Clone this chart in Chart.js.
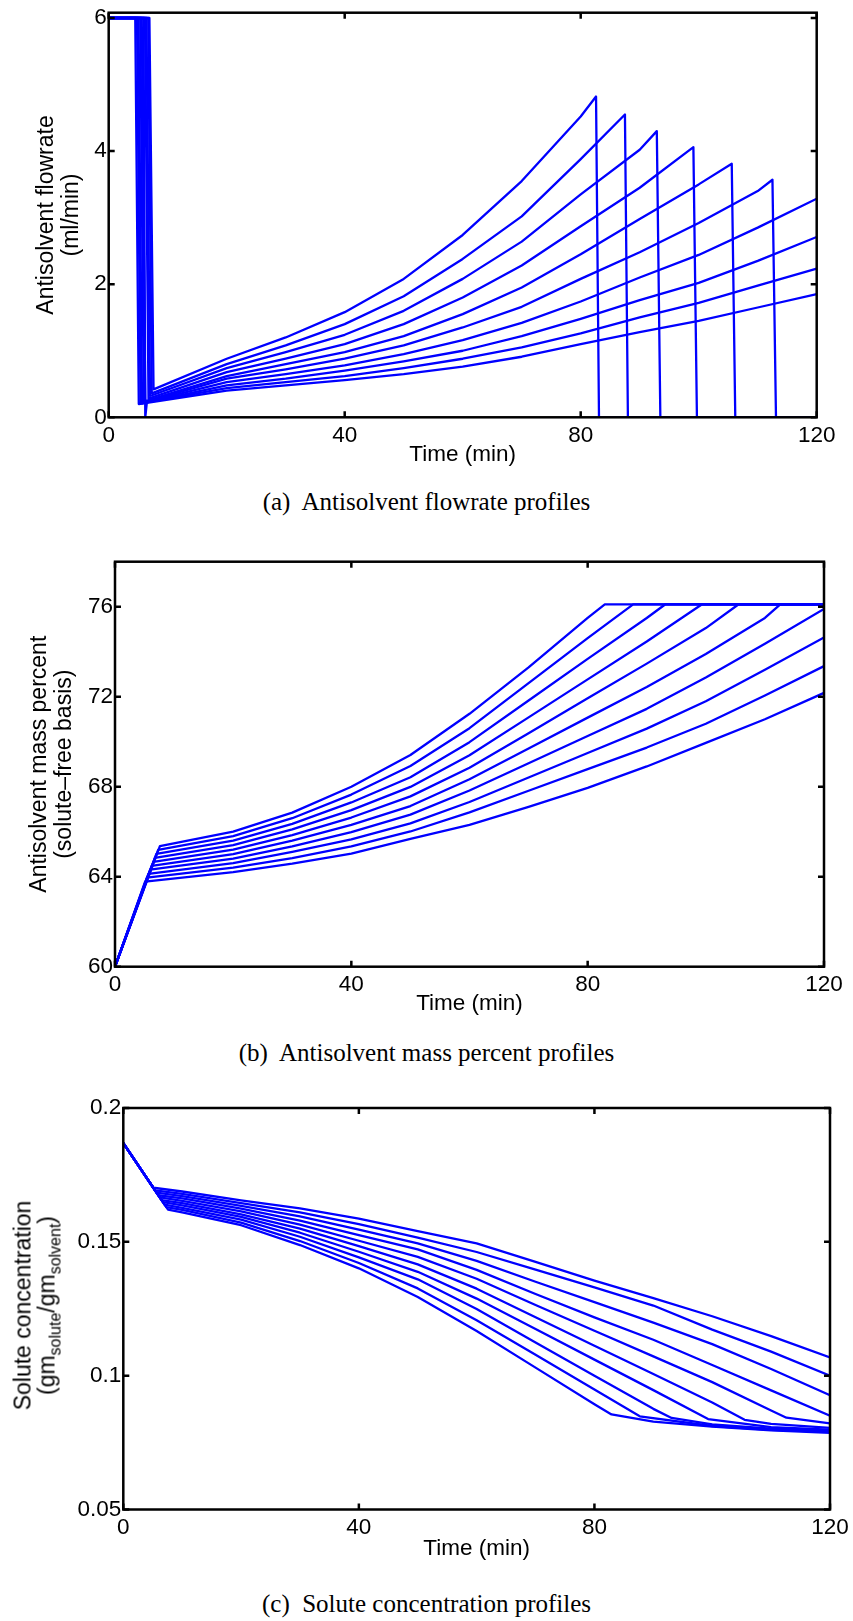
<!DOCTYPE html>
<html>
<head>
<meta charset="utf-8">
<script src="https://cdn.jsdelivr.net/npm/chart.js@4.4.1/dist/chart.umd.min.js"></script>
<style>
  body { margin: 0; background: #fff; width: 853px; height: 1621px; position: relative; overflow: hidden; }
  canvas { position: absolute; left: 0; }
  .cap { position: absolute; left: 0; width: 853px; text-align: center; font-family: "Liberation Serif", "Times New Roman", serif; font-size: 25px; color: #000; line-height: 28px; }
  .ytitle { position: absolute; font-family: "Liberation Sans", Arial, sans-serif; font-size: 23px; color: #000; text-align: center; transform: rotate(-90deg); white-space: nowrap; }
  .ytitle div { height: 23.5px; line-height: 23.5px; }
  .ytitle sub { font-size: 16px; vertical-align: -6px; line-height: 0; }
</style>
</head>
<body>
<canvas id="chartA" width="853" height="470" style="top:0px"></canvas>
<canvas id="chartB" width="853" height="480" style="top:540px"></canvas>
<canvas id="chartC" width="853" height="490" style="top:1080px"></canvas>

<div class="cap" style="top:488px">(a)&nbsp; Antisolvent flowrate profiles</div>
<div class="cap" style="top:1039px">(b)&nbsp; Antisolvent mass percent profiles</div>
<div class="cap" style="top:1590px">(c)&nbsp; Solute concentration profiles</div>

<div class="ytitle" style="left:-165px; top:1282px; width:400px; height:47px;">
  <div>Solute concentration</div>
  <div>(gm<sub>solute</sub>/gm<sub>solvent</sub>)</div>
</div>

<script>
// tick values
const timeTicks = [0, 40, 80, 120]
const flowTicks = [0, 2, 4, 6]
const massTicks = [60, 64, 68, 72, 76]
const concTicks = [0.05, 0.1, 0.15, 0.2]

// (a) antisolvent flowrate, ml/min  [time, value]
const flow1 = [[0,6],[6.9,6],[7.6,0.42],[20,0.88],[30,1.2],[40,1.58],[50,2.08],[60,2.74],[70,3.55],[80,4.52],[82.6,4.82],[83.1,0],[120,0]]
const flow2 = [[0,6],[6.7,6],[7.3,0.36],[20,0.80],[30,1.08],[40,1.40],[50,1.82],[60,2.38],[70,3.02],[80,3.88],[87.5,4.55],[88.0,0],[120,0]]
const flow3 = [[0,6],[6.4,6],[7.0,0.32],[20,0.74],[30,0.98],[40,1.24],[50,1.6],[60,2.08],[70,2.64],[80,3.35],[90,4.02],[92.9,4.30],[93.5,0],[120,0]]
const flow4 = [[0,6],[6.15,6],[6.75,0.28],[20,0.68],[30,0.88],[40,1.10],[50,1.4],[60,1.8],[70,2.28],[80,2.87],[90,3.45],[99.1,4.06],[99.7,0],[120,0]]
const flow5 = [[0,6],[5.9,6],[6.2,0],[6.5,0.25],[20,0.62],[30,0.80],[40,0.98],[50,1.22],[60,1.55],[70,1.95],[80,2.45],[90,2.98],[100,3.5],[105.6,3.81],[106.2,0],[120,0]]
const flow6 = [[0,6],[5.6,6],[6.2,0.23],[20,0.58],[30,0.72],[40,0.88],[50,1.08],[60,1.35],[70,1.66],[80,2.08],[90,2.48],[100,2.92],[110,3.40],[112.5,3.57],[113.1,0],[120,0]]
const flow7 = [[0,6],[5.35,6],[5.95,0.22],[20,0.53],[30,0.65],[40,0.78],[50,0.95],[60,1.16],[70,1.42],[80,1.74],[90,2.1],[100,2.44],[110,2.85],[120,3.285]]
const flow8 = [[0,6],[5.05,6],[5.65,0.21],[20,0.48],[30,0.58],[40,0.70],[50,0.84],[60,1.0],[70,1.22],[80,1.48],[90,1.76],[100,2.02],[110,2.35],[120,2.71]]
const flow9 = [[0,6],[4.8,6],[5.4,0.21],[20,0.44],[30,0.53],[40,0.62],[50,0.74],[60,0.88],[70,1.05],[80,1.26],[90,1.5],[100,1.72],[110,1.98],[120,2.235]]
const flow10 = [[0,6],[4.5,6],[5.1,0.20],[20,0.40],[30,0.48],[40,0.56],[50,0.65],[60,0.76],[70,0.91],[80,1.1],[90,1.28],[100,1.45],[110,1.65],[120,1.85]]

// (b) antisolvent mass percent, solute-free basis
const mass1 = [[0,60],[7.6,65.36],[20,66.0],[30,66.85],[40,68.0],[50,69.41],[60,71.24],[70,73.3],[80,75.5],[82.9,76.1],[120,76.1]]
const mass2 = [[0,60],[7.3,65.19],[20,65.8],[30,66.6],[40,67.65],[50,68.92],[60,70.6],[70,72.6],[80,74.6],[87.7,76.1],[120,76.1]]
const mass3 = [[0,60],[7.0,65.01],[20,65.6],[30,66.35],[40,67.3],[50,68.42],[60,69.98],[70,71.83],[80,73.68],[90,75.5],[93.1,76.1],[120,76.1]]
const mass4 = [[0,60],[6.75,64.84],[20,65.4],[30,66.1],[40,66.96],[50,67.99],[60,69.4],[70,71.08],[80,72.77],[90,74.45],[99.3,76.1],[120,76.1]]
const mass5 = [[0,60],[6.5,64.66],[20,65.2],[30,65.85],[40,66.63],[50,67.57],[60,68.84],[70,70.38],[80,71.93],[90,73.47],[100,75.05],[105.5,76.1],[120,76.1]]
const mass6 = [[0,60],[6.2,64.48],[20,65.0],[30,65.6],[40,66.3],[50,67.14],[60,68.33],[70,69.7],[80,71.07],[90,72.43],[100,73.9],[110,75.5],[112.6,76.1],[120,76.1]]
const mass7 = [[0,60],[5.95,64.31],[20,64.8],[30,65.35],[40,65.98],[50,66.76],[60,67.83],[70,69.04],[80,70.25],[90,71.46],[100,72.85],[110,74.35],[120,75.9]]
const mass8 = [[0,60],[5.65,64.13],[20,64.6],[30,65.1],[40,65.66],[50,66.37],[60,67.32],[70,68.41],[80,69.5],[90,70.58],[100,71.8],[110,73.2],[120,74.63]]
const mass9 = [[0,60],[5.4,63.96],[20,64.4],[30,64.83],[40,65.35],[50,66.01],[60,66.86],[70,67.82],[80,68.78],[90,69.74],[100,70.8],[110,72.05],[120,73.36]]
const mass10 = [[0,60],[5.1,63.78],[20,64.2],[30,64.58],[40,65.03],[50,65.68],[60,66.3],[70,67.1],[80,67.95],[90,68.9],[100,69.95],[110,71.0],[120,72.17]]

// (c) solute concentration, gm solute / gm solvent
const conc1 = [[0,0.1869],[7.6,0.1620],[10,0.1610],[20,0.1562],[30,0.1488],[40,0.1401],[50,0.1294],[60,0.1167],[70,0.1030],[80,0.0893],[82.9,0.0855],[90,0.0828],[100,0.0810],[110,0.0796],[120,0.0786]]
const conc2 = [[0,0.1869],[7.3,0.1630],[10,0.1619],[20,0.1572],[30,0.1503],[40,0.1421],[50,0.1326],[60,0.1207],[70,0.1078],[80,0.0948],[87.7,0.0848],[100,0.0812],[110,0.0798],[120,0.0790]]
const conc3 = [[0,0.1869],[7.0,0.1639],[10,0.1627],[20,0.1583],[30,0.1519],[40,0.1442],[50,0.1360],[60,0.1249],[70,0.1124],[80,0.1000],[90,0.0876],[93.1,0.0842],[100,0.0818],[110,0.0802],[120,0.0794]]
const conc4 = [[0,0.1869],[6.75,0.1648],[10,0.1636],[20,0.1593],[30,0.1534],[40,0.1463],[50,0.1388],[60,0.1288],[70,0.1174],[80,0.1060],[90,0.0946],[99.3,0.0838],[110,0.0808],[120,0.0798]]
const conc5 = [[0,0.1869],[6.5,0.1656],[10,0.1645],[20,0.1603],[30,0.1549],[40,0.1484],[50,0.1416],[60,0.1325],[70,0.1218],[80,0.1112],[90,0.1006],[100,0.0900],[105.5,0.0835],[110,0.0820],[120,0.0805]]
const conc6 = [[0,0.1869],[6.2,0.1666],[10,0.1653],[20,0.1614],[30,0.1564],[40,0.1504],[50,0.1444],[60,0.1362],[70,0.1264],[80,0.1168],[90,0.1072],[100,0.0976],[110,0.0870],[112.6,0.0843],[120,0.0822]]
const conc7 = [[0,0.1869],[5.95,0.1674],[10,0.1662],[20,0.1624],[30,0.1579],[40,0.1525],[50,0.1472],[60,0.1395],[70,0.1305],[80,0.1218],[90,0.1134],[100,0.1040],[110,0.0945],[120,0.0850]]
const conc8 = [[0,0.1869],[5.65,0.1684],[10,0.1671],[20,0.1634],[30,0.1595],[40,0.1546],[50,0.1494],[60,0.1429],[70,0.1351],[80,0.1275],[90,0.1198],[100,0.1118],[110,0.1025],[120,0.0927]]
const conc9 = [[0,0.1869],[5.4,0.1692],[10,0.1679],[20,0.1645],[30,0.1610],[40,0.1566],[50,0.1516],[60,0.1462],[70,0.1396],[80,0.1330],[90,0.1262],[100,0.1172],[110,0.1090],[120,0.1000]]
const conc10 = [[0,0.1869],[5.1,0.1702],[10,0.1688],[20,0.1655],[30,0.1625],[40,0.1587],[50,0.1540],[60,0.1494],[70,0.1425],[80,0.1355],[90,0.1290],[100,0.1222],[110,0.1148],[120,0.1068]]

Chart.defaults.font.family = "'Liberation Sans', Arial, Helvetica, sans-serif"
Chart.defaults.font.size = 22.5
Chart.defaults.color = "#000"

// axes box with inward ticks on all four sides (matlab style)
const boxTicks = {
  id: "boxTicks",
  afterDraw(chart) {
    const { ctx, chartArea: a, scales: { x, y } } = chart
    const len = 6
    ctx.save()
    ctx.strokeStyle = "#000"
    ctx.lineWidth = 2.5
    ctx.beginPath()
    x.ticks.forEach(t => {
      const px = x.getPixelForValue(t.value)
      ctx.moveTo(px, a.bottom); ctx.lineTo(px, a.bottom - len)
      ctx.moveTo(px, a.top); ctx.lineTo(px, a.top + len)
    })
    y.ticks.forEach(t => {
      const py = y.getPixelForValue(t.value)
      ctx.moveTo(a.left, py); ctx.lineTo(a.left + len, py)
      ctx.moveTo(a.right, py); ctx.lineTo(a.right - len, py)
    })
    ctx.stroke()
    ctx.strokeRect(a.left, a.top, a.right - a.left, a.bottom - a.top)
    ctx.restore()
  }
}

function makeChart(id, series, cfg) {
  return new Chart(document.getElementById(id), {
    type: "line",
    data: {
      datasets: series.map(s => ({
        data: s.map(([t, v]) => ({ x: t, y: v })),
        borderColor: "#0000ff",
        borderWidth: 2.3,
        borderJoinStyle: "round",
        pointRadius: 0,
        tension: 0,
        fill: false
      }))
    },
    options: {
      responsive: false,
      animation: false,
      events: [],
      layout: { padding: cfg.padding },
      plugins: { legend: { display: false }, tooltip: { enabled: false } },
      scales: {
        x: {
          type: "linear",
          min: 0,
          max: 120,
          grid: { display: false, drawTicks: false },
          border: { display: false },
          afterBuildTicks: s => { s.ticks = timeTicks.map(v => ({ value: v })) },
          afterFit: s => { s.height = cfg.xHeight; s.paddingLeft = 0; s.paddingRight = 0 },
          ticks: { padding: 5, maxRotation: 0, autoSkip: false, callback: v => String(v) },
          title: {
            display: true,
            text: "Time (min)",
            font: { size: 22.5, lineHeight: 1.1 },
            padding: { top: 0, bottom: cfg.xTitlePad }
          }
        },
        y: {
          type: "linear",
          min: cfg.yMin,
          max: cfg.yMax,
          grid: { display: false, drawTicks: false },
          border: { display: false },
          afterBuildTicks: s => { s.ticks = cfg.yTicks.map(v => ({ value: v })) },
          afterFit: s => { s.width = cfg.yWidth; s.paddingTop = 0; s.paddingBottom = 0 },
          ticks: { padding: 2, autoSkip: false, callback: v => String(+v.toFixed(4)) },
          title: {
            display: !!cfg.yTitle,
            text: cfg.yTitle || "",
            font: { size: 23, lineHeight: 25 / 23 },
            padding: { top: cfg.yTitlePad, bottom: 0 }
          }
        }
      }
    },
    plugins: [boxTicks]
  })
}

makeChart("chartA", [flow1, flow2, flow3, flow4, flow5, flow6, flow7, flow8, flow9, flow10], {
  padding: { left: 0, top: 12.7, right: 36.3, bottom: 0 },
  yWidth: 108.7, xHeight: 52.7, xTitlePad: 2.5,
  yMin: 0, yMax: 6.08, yTicks: flowTicks,
  yTitle: ["Antisolvent flowrate", "(ml/min)"], yTitlePad: 34
})

makeChart("chartB", [mass1, mass2, mass3, mass4, mass5, mass6, mass7, mass8, mass9, mass10], {
  padding: { left: 0, top: 21.7, right: 29, bottom: 0 },
  yWidth: 115, xHeight: 53.3, xTitlePad: 3.5,
  yMin: 60, yMax: 78, yTicks: massTicks,
  yTitle: ["Antisolvent mass percent", "(solute\u2013free basis)"], yTitlePad: 27
})

makeChart("chartC", [conc1, conc2, conc3, conc4, conc5, conc6, conc7, conc8, conc9, conc10], {
  padding: { left: 0, top: 28, right: 23, bottom: 0 },
  yWidth: 123.3, xHeight: 60.5, xTitlePad: 8.5,
  yMin: 0.05, yMax: 0.2, yTicks: concTicks,
  yTitle: null, yTitlePad: 0
})
</script>
</body>
</html>
